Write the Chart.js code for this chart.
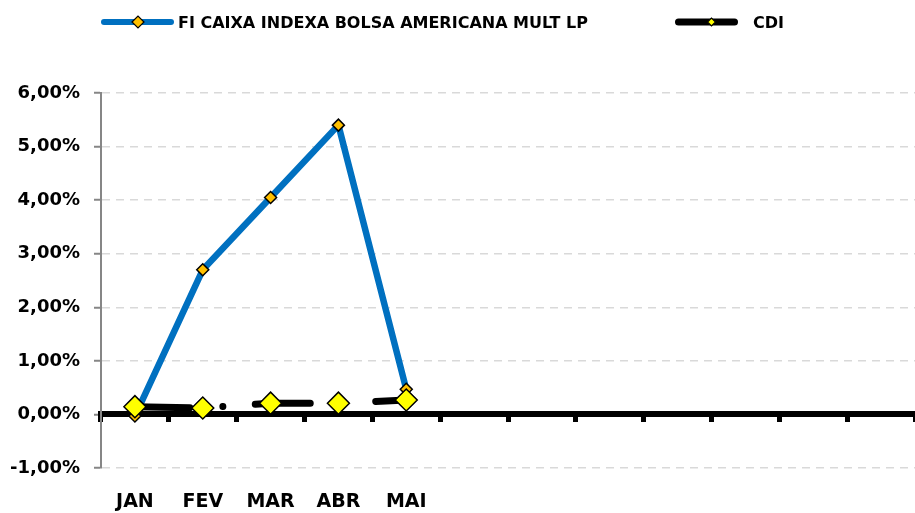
<!DOCTYPE html>
<html>
<head>
<meta charset="utf-8">
<script src="https://cdn.jsdelivr.net/npm/chart.js@4.4.1/dist/chart.umd.min.js"></script>
<style>
  html, body { margin: 0; padding: 0; background: #ffffff; overflow: hidden; }
  #wrap { width: 915px; height: 513px; position: relative; }
</style>
</head>
<body>
<div id="wrap"><canvas id="c"></canvas></div>
<script>
// ---- data ----
const tickLabels = ['JAN', 'FEV', 'MAR', 'ABR', 'MAI', '', '', '', '', '', '', ''];
const seriesNames = ['FI CAIXA INDEXA BOLSA AMERICANA MULT LP', 'CDI'];
const fundValues = [-0.03, 2.70, 4.05, 5.40, 0.47];
const cdiValues = [0.145, 0.12, 0.21, 0.21, 0.27];
const yMin = -1, yMax = 6, yStep = 1;

const FONT = "'DejaVu Sans', 'Liberation Sans', sans-serif";

const lineLegend = {
  id: 'lineLegend',
  afterDraw(chart, args, opts) {
    const ctx = chart.ctx;
    opts.items.forEach(it => {
      const ds = chart.data.datasets[it.dataset];
      ctx.save();
      ctx.strokeStyle = ds.borderColor;
      ctx.lineWidth = it.lineWidth;
      ctx.lineCap = 'round';
      ctx.beginPath();
      ctx.moveTo(it.x1, opts.y);
      ctx.lineTo(it.x2, opts.y);
      ctx.stroke();
      const mx = it.mx, r = it.r, y = opts.y;
      ctx.beginPath();
      ctx.moveTo(mx - r, y); ctx.lineTo(mx, y - r); ctx.lineTo(mx + r, y); ctx.lineTo(mx, y + r);
      ctx.closePath();
      ctx.fillStyle = ds.pointBackgroundColor;
      ctx.fill();
      ctx.lineWidth = 1.2; ctx.strokeStyle = '#000'; ctx.lineJoin = 'miter';
      ctx.stroke();
      ctx.fillStyle = '#000';
      ctx.font = 'bold 16px ' + FONT;
      ctx.textBaseline = 'alphabetic';
      ctx.textAlign = 'left';
      ctx.fillText(ds.label, it.textX, opts.textY);
      ctx.restore();
    });
  }
};

new Chart(document.getElementById('c'), {
  type: 'line',
  data: {
    labels: tickLabels,
    datasets: [
      {
        label: seriesNames[0],
        data: fundValues,
        xAxisID: 'x',
        order: 1,
        borderColor: '#0070C0',
        borderWidth: 6.5,
        borderJoinStyle: 'round',
        pointStyle: 'rectRot',
        pointRadius: 6,
        pointBackgroundColor: '#FFC000',
        pointBorderColor: '#000000',
        pointBorderWidth: 1.5,
        tension: 0,
        fill: false
      },
      {
        label: seriesNames[1],
        data: cdiValues,
        xAxisID: 'x',
        order: 0,
        borderColor: '#000000',
        borderWidth: 7,
        borderDash: [55, 33, 0.01, 32.5],
        borderCapStyle: 'round',
        borderJoinStyle: 'round',
        pointStyle: 'rectRot',
        pointRadius: 11,
        pointBackgroundColor: '#FFFF00',
        pointBorderColor: '#000000',
        pointBorderWidth: 1.5,
        tension: 0,
        fill: false
      }
    ]
  },
  options: {
    responsive: true,
    maintainAspectRatio: false,
    animation: false,
    layout: { autoPadding: false, padding: { top: 93, right: 0, bottom: 0, left: 0 } },
    plugins: {
      legend: { display: false },
      tooltip: { enabled: false },
      lineLegend: {
        y: 22,
        textY: 27.5,
        items: [
          { dataset: 0, x1: 104, x2: 171, lineWidth: 6, mx: 138, r: 6, textX: 178 },
          { dataset: 1, x1: 678.5, x2: 734.5, lineWidth: 7, mx: 711.5, r: 4, textX: 753 }
        ]
      }
    },
    scales: {
      x: {
        type: 'category',
        position: { y: 0 },
        offset: true,
        grid: {
          display: true,
          offset: true,
          drawOnChartArea: false,
          drawTicks: true,
          tickLength: 5,
          tickWidth: 5,
          tickColor: '#000000',
          color: '#000000'
        },
        border: { display: true, color: '#000000', width: 6 },
        ticks: { display: false, padding: 0 }
      },
      xb: {
        type: 'category',
        axis: 'x',
        position: 'bottom',
        offset: true,
        grid: { display: false, drawTicks: true, tickLength: 23 },
        border: { display: false },
        ticks: {
          autoSkip: false,
          maxRotation: 0,
          padding: 0,
          color: '#000000',
          font: { family: FONT, size: 19, weight: 'bold' }
        },
        afterFit(scale) { scale.height = 45; }
      },
      y: {
        type: 'linear',
        min: yMin,
        max: yMax,
        grid: {
          color: (c) => (c.tick && c.tick.value === 0) ? 'rgba(0,0,0,0)' : '#d9d9d9',
          lineWidth: 1.5,
          drawTicks: true,
          tickLength: 7,
          tickWidth: 2,
          tickColor: '#868686',
          tickBorderDash: []
        },
        border: { display: true, color: '#868686', width: 2, dash: [8, 6] },
        ticks: {
          stepSize: yStep,
          padding: 14,
          color: '#000000',
          font: { family: FONT, size: 18, weight: 'bold' },
          callback: (v) => v.toFixed(2).replace('.', ',') + '%'
        },
        afterFit(scale) { scale.width = 101; }
      }
    }
  },
  plugins: [lineLegend]
});
</script>
</body>
</html>
